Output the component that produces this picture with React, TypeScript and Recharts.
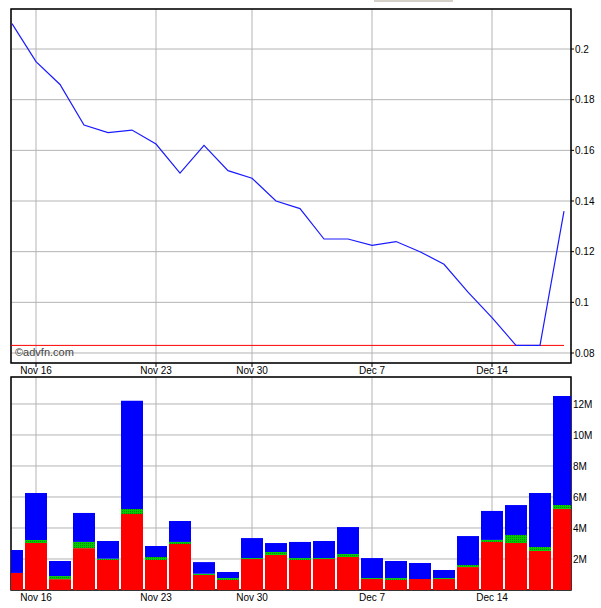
import React from 'react';
import {
  ComposedChart, Line, Bar, XAxis, YAxis, CartesianGrid, ReferenceArea, ReferenceLine,
} from 'recharts';

const dates = ['Nov 13', 'Nov 16', 'Nov 17', 'Nov 18', 'Nov 19', 'Nov 20', 'Nov 23', 'Nov 24', 'Nov 25', 'Nov 27', 'Nov 30', 'Dec 1', 'Dec 2', 'Dec 3', 'Dec 4', 'Dec 7', 'Dec 8', 'Dec 9', 'Dec 10', 'Dec 11', 'Dec 14', 'Dec 15', 'Dec 16', 'Dec 17'];
const price = [0.21, 0.195, 0.186, 0.17, 0.167, 0.168, 0.1625, 0.151, 0.162, 0.152, 0.149, 0.14, 0.137, 0.125, 0.125, 0.1225, 0.124, 0.12, 0.115, 0.104, 0.094, 0.083, 0.083, 0.136];
const volRed = [1.1, 3.03, 0.7, 2.7, 1.94, 4.9, 1.94, 2.97, 0.97, 0.65, 2.0, 2.26, 1.94, 2.0, 2.13, 0.71, 0.65, 0.71, 0.71, 1.48, 3.1, 3.03, 2.52, 5.23];
const volGreen = [0, 0.2, 0.2, 0.4, 0.08, 0.33, 0.19, 0.13, 0.08, 0.12, 0.06, 0.19, 0.12, 0.06, 0.19, 0.06, 0.12, 0, 0.06, 0.13, 0.13, 0.52, 0.25, 0.25];
const volBlue = [1.48, 3.03, 0.97, 1.87, 1.14, 6.97, 0.71, 1.35, 0.75, 0.39, 1.29, 0.58, 1.04, 1.1, 1.74, 1.29, 1.1, 1.03, 0.52, 1.87, 1.87, 1.93, 3.49, 7.04];
const tickDates = ['Nov 16', 'Nov 23', 'Nov 30', 'Dec 7', 'Dec 14'];
const priceTicks = [0.08, 0.1, 0.12, 0.14, 0.16, 0.18, 0.2];
const priceMinor = [0.09, 0.11, 0.13, 0.15, 0.17, 0.19, 0.21];
const volTicks = [2, 4, 6, 8, 10, 12];
const volMinor = [1, 3, 5, 7, 9, 11, 13];

const data = dates.map((d, i) => ({
  i, date: d, price: price[i], red: volRed[i], green: volGreen[i], blue: volBlue[i],
}));
const xTicks = tickDates.map((d) => dates.indexOf(d));
const support = Math.min(...price);

const X_DOMAIN: [number, number] = [-1 / 24, 559 / 24];
const P_DOMAIN: [number, number] = [0.07605, 0.2158];
const V_DOMAIN: [number, number] = [0, 13.74];

const FONT = { fontSize: 10, fill: '#000' };
const GRID = '#b4b4b4';

export default function App() {
  const fmtDate = (v: number) => dates[v] ?? '';
  return (
    <div style={{ position: 'absolute', left: 0, top: 0, width: 601, height: 608, background: '#fff', fontFamily: '"Liberation Sans", Arial, sans-serif' }}>
      <div style={{ position: 'absolute', left: 374, top: 0, width: 79, height: 2, background: '#d4d0c8' }} />
      <div style={{ position: 'absolute', left: 0, top: 0 }}>
        <ComposedChart width={601} height={378} data={data} margin={{ top: 9, left: 11, right: 0, bottom: 0 }}>
          <CartesianGrid stroke={GRID} strokeWidth={1} />
          <XAxis dataKey="i" type="number" domain={X_DOMAIN} allowDataOverflow ticks={xTicks}
            tickFormatter={fmtDate} height={15} axisLine={false} tickSize={4} tickMargin={0}
            tickLine={{ stroke: '#000' }} tick={FONT} interval={0} />
          <YAxis yAxisId="minR" orientation="right" mirror width={0} domain={P_DOMAIN} allowDataOverflow
            ticks={priceMinor} tick={false} tickSize={3} axisLine={false} tickLine={{ stroke: '#000' }} />
          <YAxis yAxisId="minL" orientation="left" mirror width={0} domain={P_DOMAIN} allowDataOverflow
            ticks={priceMinor} tick={false} tickSize={3} axisLine={false} tickLine={{ stroke: '#000' }} />
          <YAxis orientation="right" width={30} domain={P_DOMAIN} allowDataOverflow ticks={priceTicks}
            interval={0} tickSize={3} tickMargin={1} axisLine={false} tickLine={{ stroke: '#000' }} tick={FONT} />
          <ReferenceLine segment={[{ x: X_DOMAIN[0], y: support }, { x: dates.length - 1, y: support }]}
            stroke="#ff0000" strokeWidth={1} ifOverflow="visible" />
          <Line dataKey="price" type="linear" stroke="#1a1aff" strokeWidth={1.2} dot={false} isAnimationActive={false} />
          <ReferenceArea x1={X_DOMAIN[0]} x2={X_DOMAIN[1]} y1={P_DOMAIN[0]} y2={P_DOMAIN[1]}
            fill="none" fillOpacity={0} stroke="#000" strokeWidth={1.5} ifOverflow="visible" />
        </ComposedChart>
      </div>
      <div style={{ position: 'absolute', left: 15, top: 346, fontSize: 11, color: '#444', lineHeight: '13px' }}>©advfn.com</div>
      <div style={{ position: 'absolute', left: 0, top: 363 }}>
        <ComposedChart width={601} height={245} data={data} margin={{ top: 14, left: 11, right: 0, bottom: 0 }}>
          <defs>
            <pattern id="greenHatch" width="2" height="2" patternUnits="userSpaceOnUse">
              <rect width="2" height="2" fill="#00cc00" />
              <rect width="1" height="1" fill="#008800" />
            </pattern>
          </defs>
          <CartesianGrid stroke={GRID} strokeWidth={1} />
          <XAxis dataKey="i" type="number" domain={X_DOMAIN} allowDataOverflow ticks={xTicks}
            tickFormatter={fmtDate} height={18} axisLine={false} tickSize={0} tickMargin={4}
            tickLine={false} tick={FONT} interval={0} />
          <YAxis yAxisId="minR" orientation="right" mirror width={0} domain={V_DOMAIN} allowDataOverflow
            ticks={volMinor} tick={false} tickSize={3} axisLine={false} tickLine={{ stroke: '#000' }} />
          <YAxis yAxisId="minL" orientation="left" mirror width={0} domain={V_DOMAIN} allowDataOverflow
            ticks={volMinor} tick={false} tickSize={3} axisLine={false} tickLine={{ stroke: '#000' }} />
          <YAxis orientation="right" width={30} domain={V_DOMAIN} allowDataOverflow ticks={volTicks}
            interval={0} tickSize={0} tickMargin={2} axisLine={false} tickLine={false} tick={FONT}
            tickFormatter={(v: number) => `${v}M`} />
          <Bar dataKey="red" stackId="v" fill="#ff0000" barSize={22} isAnimationActive={false} />
          <Bar dataKey="green" stackId="v" fill="url(#greenHatch)" barSize={22} isAnimationActive={false} />
          <Bar dataKey="blue" stackId="v" fill="#0000ff" barSize={22} isAnimationActive={false} />
          <ReferenceArea x1={X_DOMAIN[0]} x2={X_DOMAIN[1]} y1={V_DOMAIN[0]} y2={V_DOMAIN[1]}
            fill="none" fillOpacity={0} stroke="#000" strokeWidth={1.5} ifOverflow="visible" />
        </ComposedChart>
      </div>
    </div>
  );
}
